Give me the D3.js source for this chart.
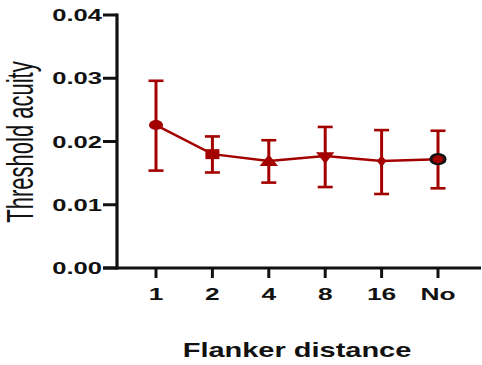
<!DOCTYPE html>
<html>
<head>
<meta charset="utf-8">
<script src="https://cdn.jsdelivr.net/npm/d3@7"></script>
<style>
  body { margin: 0; background: #fff; }
  svg { display: block; }
  text { font-family: "Liberation Sans", Arial, sans-serif; fill: #111; }
</style>
</head>
<body>
<svg></svg>
<script>
// data
var categories = ['1', '2', '4', '8', '16', 'No'];
var means = [0.0226, 0.0180, 0.0169, 0.0177, 0.0169, 0.0172];
var upper = [0.0296, 0.0208, 0.0202, 0.0223, 0.0218, 0.0217];
var lower = [0.0154, 0.0151, 0.0135, 0.0128, 0.0117, 0.0126];
var markers = ['circle', 'square', 'triangle', 'triangleDown', 'diamond', 'circleRing'];
var yTicks = [0, 0.01, 0.02, 0.03, 0.04];

var svgWidth = 482, svgHeight = 365;
var red = '#a30000';
var stretch = 1.55; // the original picture is stretched sideways

var svg = d3.select('svg')
    .attr('width', svgWidth)
    .attr('height', svgHeight);

var xAxisLeft = 103, xAxisRight = 481;
var yAxisX = 117;

var x = d3.scalePoint()
    .domain(categories)
    .range([156, 438]);

var y = d3.scaleLinear()
    .domain([0, 0.04])
    .range([268, 15]);

var data = categories.map(function(c, i) {
    return { cat: c, mean: means[i], hi: upper[i], lo: lower[i], marker: markers[i] };
});

// y axis
svg.append('line')
    .attr('x1', yAxisX).attr('x2', yAxisX)
    .attr('y1', y(0.04) - 1.5).attr('y2', y(0) + 1.5)
    .attr('stroke', '#111').attr('stroke-width', 3.2);

svg.selectAll('.ytick')
    .data(yTicks)
    .enter()
    .append('line')
    .attr('class', 'ytick')
    .attr('x1', xAxisLeft).attr('x2', yAxisX)
    .attr('y1', d => y(d)).attr('y2', d => y(d))
    .attr('stroke', '#111').attr('stroke-width', 3);

svg.selectAll('.ylabel')
    .data(yTicks)
    .enter()
    .append('text')
    .attr('class', 'ylabel')
    .attr('transform', d => 'translate(102,' + (y(d) + 6) + ') scale(' + stretch + ',1)')
    .attr('text-anchor', 'end')
    .style('font-size', '16.5px')
    .style('font-weight', 'bold')
    .text(d => d3.format('.2f')(d));

// x axis
svg.append('line')
    .attr('x1', xAxisLeft).attr('x2', xAxisRight)
    .attr('y1', y(0)).attr('y2', y(0))
    .attr('stroke', '#111').attr('stroke-width', 3);

svg.selectAll('.xtick')
    .data(categories)
    .enter()
    .append('line')
    .attr('class', 'xtick')
    .attr('x1', d => x(d)).attr('x2', d => x(d))
    .attr('y1', y(0)).attr('y2', y(0) + 10)
    .attr('stroke', '#111').attr('stroke-width', 3);

svg.selectAll('.xlabel')
    .data(categories)
    .enter()
    .append('text')
    .attr('class', 'xlabel')
    .attr('transform', d => 'translate(' + x(d) + ',299.5) scale(' + stretch + ',1)')
    .attr('text-anchor', 'middle')
    .style('font-size', '17px')
    .style('font-weight', 'bold')
    .text(d => d);

// axis titles
svg.append('text')
    .attr('transform', 'translate(297,357) scale(1.38,1)')
    .attr('text-anchor', 'middle')
    .style('font-size', '21px')
    .style('font-weight', 'bold')
    .text('Flanker distance');

svg.append('text')
    .attr('transform', 'translate(33,142) scale(1.65,1) rotate(-90)')
    .attr('text-anchor', 'middle')
    .style('font-size', '22px')
    .text('Threshold acuity');

// error bars
var capHalf = 7.5;
var bars = svg.append('g');
bars.selectAll('.err')
    .data(data)
    .enter()
    .append('line')
    .attr('class', 'err')
    .attr('x1', d => x(d.cat)).attr('x2', d => x(d.cat))
    .attr('y1', d => y(d.hi)).attr('y2', d => y(d.lo))
    .attr('stroke', red).attr('stroke-width', 3);

bars.selectAll('.capHi')
    .data(data)
    .enter()
    .append('line')
    .attr('class', 'capHi')
    .attr('x1', d => x(d.cat) - capHalf).attr('x2', d => x(d.cat) + capHalf)
    .attr('y1', d => y(d.hi)).attr('y2', d => y(d.hi))
    .attr('stroke', red).attr('stroke-width', 2.6);

bars.selectAll('.capLo')
    .data(data)
    .enter()
    .append('line')
    .attr('class', 'capLo')
    .attr('x1', d => x(d.cat) - capHalf).attr('x2', d => x(d.cat) + capHalf)
    .attr('y1', d => y(d.lo)).attr('y2', d => y(d.lo))
    .attr('stroke', red).attr('stroke-width', 2.6);

// mean line
var line = d3.line()
    .x(d => x(d.cat))
    .y(d => y(d.mean));

svg.append('path')
    .datum(data)
    .attr('d', line)
    .attr('fill', 'none')
    .attr('stroke', red)
    .attr('stroke-width', 2.5);

// markers
var symbolTypes = {
    circle: d3.symbolCircle,
    square: d3.symbolSquare,
    triangle: d3.symbolTriangle,
    triangleDown: d3.symbolTriangle,
    diamond: d3.symbolDiamond,
    circleRing: d3.symbolCircle
};
var symbolSizes = { circle: 80, square: 100, triangle: 75, triangleDown: 75, diamond: 40, circleRing: 80 };

svg.selectAll('.pt')
    .data(data)
    .enter()
    .append('path')
    .attr('class', 'pt')
    .attr('d', d => d3.symbol().type(symbolTypes[d.marker]).size(symbolSizes[d.marker])())
    .attr('transform', function(d) {
        var t = 'translate(' + x(d.cat) + ',' + y(d.mean) + ') scale(1.4,1)';
        if (d.marker == 'triangleDown') t += ' rotate(180)';
        if (d.marker == 'triangle') t += ' translate(0,1)';
        return t;
    })
    .attr('fill', red)
    .attr('stroke', d => d.marker == 'circleRing' ? '#111' : 'none')
    .attr('stroke-width', 2.2);
</script>
</body>
</html>
